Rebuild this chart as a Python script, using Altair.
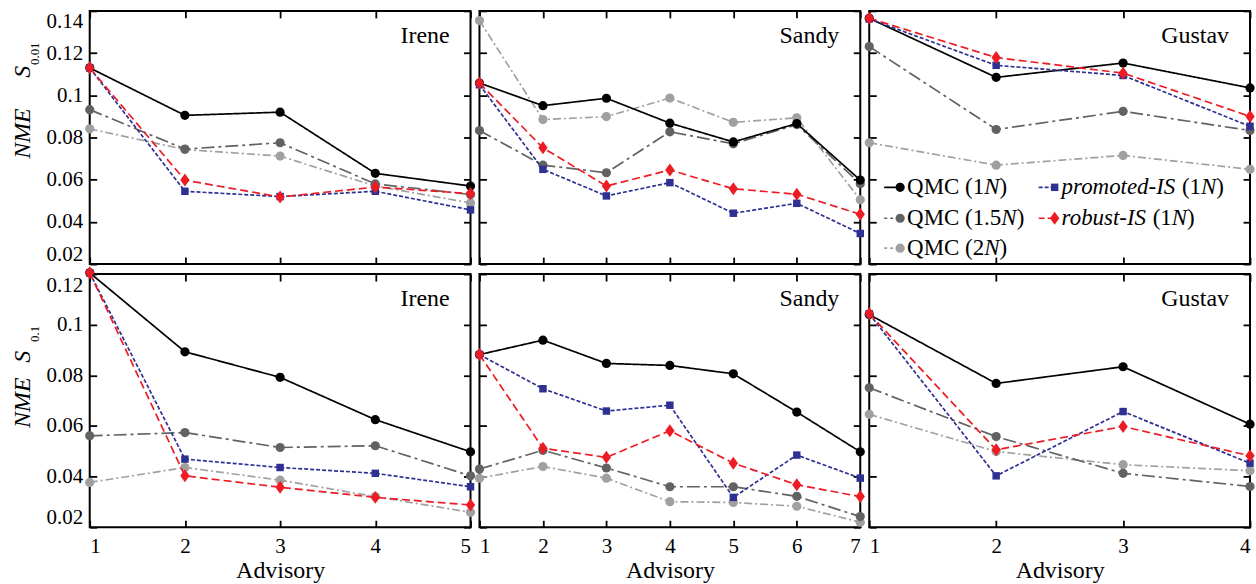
import altair as alt
import pandas as pd

# ---------------- data ----------------
HURRICANES = ["Irene", "Sandy", "Gustav"]
ROW_SUBSCRIPTS = ["0.01", "0.1"]
ROW_YDOMAINS = [[0.02, 0.14], [0.02, 0.12]]
ROW_YTICKS = [[0.02, 0.04, 0.06, 0.08, 0.10, 0.12, 0.14],
              [0.02, 0.04, 0.06, 0.08, 0.10, 0.12]]

# top row: S_0.01
irene_q1_top = [0.113, 0.0905, 0.092, 0.063, 0.057]
irene_q15_top = [0.0932, 0.0745, 0.0775, 0.058, 0.053]
irene_q2_top = [0.0841, 0.0743, 0.0712, 0.057, 0.049]
irene_pis_top = [0.113, 0.0545, 0.052, 0.0545, 0.0457]
irene_ris_top = [0.113, 0.0598, 0.0518, 0.0565, 0.0534]

sandy_q1_top = [0.1058, 0.0951, 0.0986, 0.0868, 0.0779, 0.0866, 0.0598]
sandy_q15_top = [0.0833, 0.0669, 0.0633, 0.0827, 0.077, 0.0861, 0.0581]
sandy_q2_top = [0.1354, 0.0885, 0.0899, 0.0987, 0.0872, 0.0893, 0.0505]
sandy_pis_top = [0.105, 0.0649, 0.0523, 0.0586, 0.0441, 0.0488, 0.0345]
sandy_ris_top = [0.1058, 0.0751, 0.057, 0.0646, 0.0557, 0.0531, 0.0436]

gustav_q1_top = [0.1365, 0.1085, 0.1153, 0.1035]
gustav_q15_top = [0.1231, 0.0838, 0.0924, 0.0833]
gustav_q2_top = [0.0775, 0.0669, 0.0715, 0.0649]
gustav_pis_top = [0.1362, 0.1142, 0.1094, 0.0853]
gustav_ris_top = [0.1365, 0.1179, 0.1105, 0.09]

# bottom row: S_0.1
irene_q1_bot = [0.1205, 0.0893, 0.0792, 0.0625, 0.0498]
irene_q15_bot = [0.0561, 0.0574, 0.0515, 0.0522, 0.0403]
irene_q2_bot = [0.0377, 0.0436, 0.0386, 0.0321, 0.0259]
irene_pis_bot = [0.1205, 0.0469, 0.0436, 0.0413, 0.036]
irene_ris_bot = [0.1205, 0.0403, 0.0358, 0.0318, 0.0288]

sandy_q1_bot = [0.0882, 0.0939, 0.0847, 0.0839, 0.0806, 0.0655, 0.0498]
sandy_q15_bot = [0.043, 0.0504, 0.0434, 0.036, 0.036, 0.0322, 0.0242]
sandy_q2_bot = [0.0394, 0.044, 0.0394, 0.0301, 0.0298, 0.0283, 0.022]
sandy_pis_bot = [0.0882, 0.0747, 0.0659, 0.0682, 0.0318, 0.0485, 0.0394]
sandy_ris_bot = [0.0882, 0.0512, 0.0476, 0.0581, 0.0453, 0.0368, 0.0321]

gustav_q1_bot = [0.104, 0.0768, 0.0834, 0.0607]
gustav_q15_bot = [0.0751, 0.0558, 0.0413, 0.0361]
gustav_q2_bot = [0.0646, 0.0499, 0.0447, 0.0423]
gustav_pis_bot = [0.1043, 0.0403, 0.0657, 0.0453]
gustav_ris_bot = [0.1044, 0.0506, 0.0598, 0.0482]

DATA = [
    [
        {"q1": irene_q1_top, "q15": irene_q15_top, "q2": irene_q2_top, "pis": irene_pis_top, "ris": irene_ris_top},
        {"q1": sandy_q1_top, "q15": sandy_q15_top, "q2": sandy_q2_top, "pis": sandy_pis_top, "ris": sandy_ris_top},
        {"q1": gustav_q1_top, "q15": gustav_q15_top, "q2": gustav_q2_top, "pis": gustav_pis_top, "ris": gustav_ris_top},
    ],
    [
        {"q1": irene_q1_bot, "q15": irene_q15_bot, "q2": irene_q2_bot, "pis": irene_pis_bot, "ris": irene_ris_bot},
        {"q1": sandy_q1_bot, "q15": sandy_q15_bot, "q2": sandy_q2_bot, "pis": sandy_pis_bot, "ris": sandy_ris_bot},
        {"q1": gustav_q1_bot, "q15": gustav_q15_bot, "q2": gustav_q2_bot, "pis": gustav_pis_bot, "ris": gustav_ris_bot},
    ],
]

# legend label pieces (text, italic)
LEGEND_ITEMS = [
    ("q1", [("QMC (1", False), ("N", True), (")", False)]),
    ("pis", [("promoted-IS", True), (" (1", False), ("N", True), (")", False)]),
    ("q15", [("QMC (1.5", False), ("N", True), (")", False)]),
    ("ris", [("robust-IS", True), (" (1", False), ("N", True), (")", False)]),
    ("q2", [("QMC (2", False), ("N", True), (")", False)]),
]

# ---------------- styles ----------------
ORDER = ["q2", "q15", "q1", "pis", "ris"]
COLORS = {"q1": "#000000", "q15": "#626262", "q2": "#a0a0a0", "pis": "#2e3192", "ris": "#ed1c24"}
DASH = {"q1": [1, 0], "q15": [13, 4, 3, 4], "q2": [8, 3, 2, 3], "pis": [4, 2], "ris": [8, 4]}
LEG_DASH = {"q1": [1, 0], "q15": [3, 3], "q2": [3, 3], "pis": [4, 2], "ris": [6, 3]}
DIAMOND = "M0,-1L0.72,0L0,1L-0.72,0Z"
SHAPE = {"q1": "circle", "q15": "circle", "q2": "circle", "pis": "square", "ris": DIAMOND}
SIZE = {"q1": 85, "q15": 85, "q2": 85, "pis": 56, "ris": 170}
FONT = "Liberation Serif"
W, H = 382, 254

ROMAN_W = {" ": 250, "(": 333, ")": 333, ".": 250, "-": 333, "Q": 722, "M": 889, "C": 667,
           "N": 722, "I": 333, "S": 556}
ITAL_W = {" ": 250, "(": 333, ")": 333, ".": 250, "-": 333, "N": 667, "M": 833, "E": 611,
          "S": 500, "I": 333, "p": 500, "r": 389, "o": 500, "m": 722, "t": 278, "e": 444,
          "d": 500, "b": 500, "u": 500, "s": 389}


def text_width(s, italic, size):
    table = ITAL_W if italic else ROMAN_W
    return sum(table.get(c, 500) for c in s) / 1000.0 * size


one = pd.DataFrame({"a": [0]})


def panel(r, c):
    name = HURRICANES[c]
    vals = DATA[r][c]
    n = len(vals["q1"])
    xt = list(range(1, n + 1))
    yt = ROW_YTICKS[r]
    recs = []
    for s in ORDER:
        for i, v in enumerate(vals[s]):
            recs.append({"series": s, "adv": i + 1, "val": v})
    df = pd.DataFrame(recs)
    xs = alt.Scale(domain=[1, n], nice=False, zero=False)
    ys = alt.Scale(domain=ROW_YDOMAINS[r], nice=False, zero=False)

    def X(axis):
        return alt.X("adv:Q", scale=xs, axis=axis)

    def Y(axis):
        return alt.Y("val:Q", scale=ys, axis=axis)

    tick_common = dict(labels=False, domain=False, grid=False, ticks=True, tickSize=7,
                       tickWidth=1.8, tickColor="black", title=None)
    layers = []
    # inward ticks: bottom & left
    layers.append(alt.Chart(df).mark_line(opacity=0).encode(
        x=X(alt.Axis(orient="top", offset=-H, values=xt, **tick_common)),
        y=Y(alt.Axis(orient="right", offset=-W, values=yt, **tick_common))))
    # inward ticks: top & right
    layers.append(alt.Chart(df).mark_line(opacity=0).encode(
        x=X(alt.Axis(orient="bottom", offset=-H, values=xt, **tick_common)),
        y=Y(alt.Axis(orient="left", offset=-W, values=yt, **tick_common))))
    # labelled axes
    xa = None
    if r == 1:
        xa = alt.Axis(orient="bottom", values=xt, format="d", ticks=False, domain=False, grid=False,
                      labelFlush=True, labelPadding=8, title="Advisory", titlePadding=2,
                      titleFontSize=24, titleFontWeight="normal", labelFontSize=21)
    ya = None
    if c == 0:
        ya = alt.Axis(orient="left", values=yt, labelExpr="format(datum.value, '.2~f')", ticks=False,
                      domain=False, grid=False, labelFlush=True, labelPadding=7, title=None,
                      labelFontSize=21)
    layers.append(alt.Chart(df).mark_line(opacity=0).encode(x=X(xa), y=Y(ya)))

    for s in ORDER:
        sdf = df[df["series"] == s]
        layers.append(alt.Chart(sdf).mark_line(color=COLORS[s], strokeDash=DASH[s], strokeWidth=1.7)
                      .encode(x=X(None), y=Y(None)))
        layers.append(alt.Chart(sdf).mark_point(shape=SHAPE[s], size=SIZE[s], filled=True, opacity=1,
                                                color=COLORS[s])
                      .encode(x=X(None), y=Y(None)))

    # panel name
    layers.append(alt.Chart(one).mark_text(text=name, fontSize=24, align="right", baseline="middle",
                                           font=FONT, color="black")
                  .encode(x=alt.value(W - 21), y=alt.value(25)))

    # y-axis title pieces
    if c == 0:
        ypos = [(123, 61, 43), (129, 83, 60)][r]
        layers.append(alt.Chart(one).mark_text(text="NME", fontSize=24, fontStyle="italic", angle=270,
                                               align="center", baseline="middle", font=FONT, color="black")
                      .encode(x=alt.value(-67), y=alt.value(ypos[0])))
        layers.append(alt.Chart(one).mark_text(text="S", fontSize=24, fontStyle="italic", angle=270,
                                               align="center", baseline="middle", font=FONT, color="black")
                      .encode(x=alt.value(-67), y=alt.value(ypos[1])))
        layers.append(alt.Chart(one).mark_text(text=ROW_SUBSCRIPTS[r], fontSize=13, angle=270,
                                               align="center", baseline="middle", font=FONT, color="black")
                      .encode(x=alt.value(-55), y=alt.value(ypos[2])))

    # legend
    if r == 0 and c == 2:
        fs = 23
        rows_y = [177, 208, 238]
        col_x = [15, 170]
        for k, (s, pieces) in enumerate(LEGEND_ITEMS):
            yy = rows_y[k // 2]
            x0 = col_x[k % 2]
            xm = x0 + 16
            layers.append(alt.Chart(one).mark_rule(color=COLORS[s], strokeDash=LEG_DASH[s], strokeWidth=1.7)
                          .encode(x=alt.value(x0), x2=alt.value(xm), y=alt.value(yy)))
            layers.append(alt.Chart(one).mark_point(shape=SHAPE[s], size=SIZE[s], filled=True, opacity=1,
                                                    color=COLORS[s])
                          .encode(x=alt.value(xm), y=alt.value(yy)))
            xt_ = xm + 7
            for txt, it in pieces:
                if txt.startswith(" "):
                    xt_ += text_width(" ", it, fs)
                    txt = txt[1:]
                layers.append(alt.Chart(one).mark_text(text=txt, fontSize=fs,
                                                       fontStyle="italic" if it else "normal",
                                                       align="left", baseline="middle", font=FONT,
                                                       color="black")
                              .encode(x=alt.value(xt_), y=alt.value(yy)))
                xt_ += text_width(txt, it, fs)

    return alt.layer(*layers).resolve_axis(x="independent", y="independent").properties(width=W, height=H)


panels = [panel(r, c) for r in range(2) for c in range(3)]
chart = alt.concat(*panels, columns=3, spacing={"row": 10, "column": 9}, bounds="flush").properties(
    padding={"left": 10, "top": 8, "right": 0, "bottom": 0}
).configure_view(stroke="black", strokeWidth=2).configure_axis(
    labelFont=FONT, titleFont=FONT, labelColor="black", titleColor="black", grid=False
).configure_text(font=FONT)

chart.save("out.html", embed_options={"renderer": "svg", "actions": False})
